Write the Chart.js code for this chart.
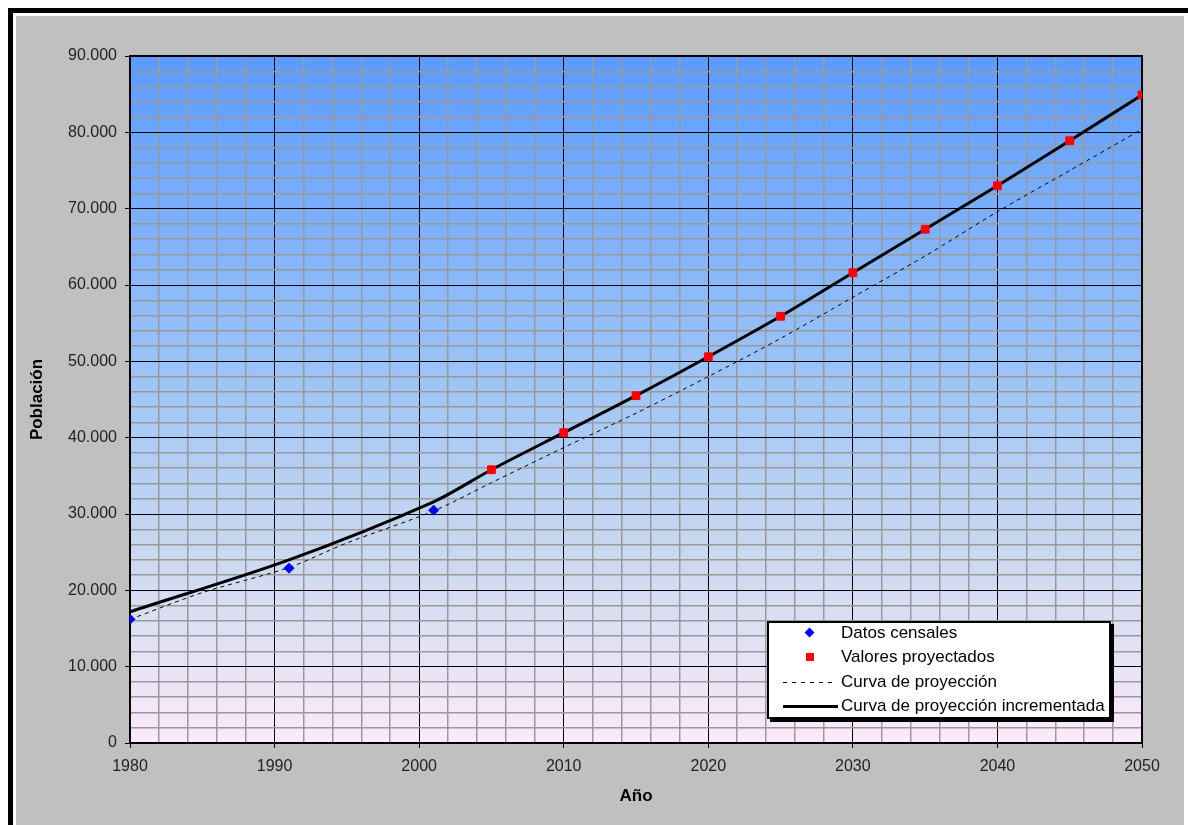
<!DOCTYPE html>
<html>
<head>
<meta charset="utf-8">
<script src="https://cdn.jsdelivr.net/npm/chart.js@4.4.1/dist/chart.umd.min.js"></script>
<style>
  body { margin: 0; background: #fff; width: 1188px; height: 825px; overflow: hidden; position: relative; font-family: "Liberation Sans", Arial, sans-serif; }
  #marco { position: absolute; left: 8px; top: 8px; width: 1180px; height: 817px; border-top: 5px solid #000; border-left: 5px solid #000; box-sizing: border-box; background: #fff; }
  #panel { position: absolute; left: 16px; top: 16px; width: 1168px; height: 809px; background: #c0c0c0; }
  #grafico { position: absolute; left: 0; top: 0; }
  #leyenda { position: absolute; left: 751px; top: 605px; width: 344px; height: 98px; box-sizing: border-box; border: 2px solid #000; background: #fff; box-shadow: 3px 3px 0 #000; }
  .fila { position: absolute; left: 0; width: 100%; height: 24px; line-height: 24px; font-size: 17px; color: #000; }
  .fila span.txt { position: absolute; left: 72px; top: 0; white-space: nowrap; }
  .simbolo { position: absolute; }
</style>
</head>
<body>
<div id="marco"></div>
<div id="panel">
  <canvas id="grafico" width="1168" height="809"></canvas>
  <div id="leyenda"></div>
</div>
<script>
// Datos censales
const anosCenso = [1980, 1991, 2001];
const poblacionCenso = [16200, 22900, 30500];

// Valores proyectados
const anosProyeccion = [2005, 2010, 2015, 2020, 2025, 2030, 2035, 2040, 2045, 2050];
const poblacionProyectada = [35800, 40650, 45500, 50600, 55900, 61600, 67300, 73000, 78900, 84900];

// Curva de proyeccion (punteada)
const anosCurva = [1980, 1985, 1991, 1995, 2001, 2005, 2010, 2015, 2020, 2025, 2030, 2035, 2040, 2045, 2050];
const poblacionCurva = [16200, 19700, 23000, 26200, 30400, 34100, 38700, 43200, 48000, 53000, 58400, 63800, 69600, 75000, 80400];

// Curva de proyeccion incrementada
const anosIncrementada = [1980, 1991, 2001, 2005, 2010, 2015, 2020, 2025, 2030, 2035, 2040, 2045, 2050];
const poblacionIncrementada = [17200, 24000, 31600, 35800, 40650, 45500, 50600, 55900, 61600, 67300, 73000, 78900, 84900];

const puntos = (xs, ys) => xs.map((x, i) => ({ x: x, y: ys[i] }));

// Fondo degradado y marco del area de trazado
const fondoPlugin = {
    id: 'fondo',
    beforeDraw(chart) {
        const { ctx, chartArea: a } = chart;
        const g = ctx.createLinearGradient(0, a.top, 0, a.bottom);
        g.addColorStop(0, '#5b9bff');
        g.addColorStop(0.5, '#a2c7f6');
        g.addColorStop(0.72, '#c9d8ef');
        g.addColorStop(1, '#fdeafa');
        ctx.save();
        ctx.fillStyle = g;
        ctx.fillRect(a.left, a.top, a.right - a.left, a.bottom - a.top);
        ctx.restore();
    },
    beforeDatasetsDraw(chart) {
        const { ctx, chartArea: a } = chart;
        ctx.save();
        ctx.strokeStyle = '#000';
        ctx.lineWidth = 2;
        ctx.strokeRect(a.left, a.top, a.right - a.left, a.bottom - a.top);
        ctx.restore();
    }
};

const datasets = [
    {
        label: 'Datos censales',
        data: puntos(anosCenso, poblacionCenso),
        pointStyle: 'rectRot',
        pointRadius: 5,
        backgroundColor: '#0000ff',
        borderColor: '#0000ff',
        borderWidth: 1,
        showLine: false
    },
    {
        label: 'Valores proyectados',
        data: puntos(anosProyeccion, poblacionProyectada),
        pointStyle: 'rect',
        pointRadius: 5.5,
        backgroundColor: '#ff0000',
        borderColor: '#ff0000',
        borderWidth: 1,
        showLine: false
    },
    {
        label: 'Curva de proyección',
        data: puntos(anosCurva, poblacionCurva),
        showLine: true,
        borderColor: '#000',
        borderWidth: 1,
        borderDash: [4, 4],
        pointRadius: 0,
        tension: 0.3
    },
    {
        label: 'Curva de proyección incrementada',
        data: puntos(anosIncrementada, poblacionIncrementada),
        showLine: true,
        borderColor: '#000',
        borderWidth: 3,
        pointRadius: 0,
        tension: 0.3
    }
];

const fuenteTicks = { family: '"Liberation Sans", Arial, sans-serif', size: 16 };
const fuenteTitulo = { family: '"Liberation Sans", Arial, sans-serif', size: 17, weight: 'bold' };

const chart = new Chart(document.getElementById('grafico').getContext('2d'), {
    type: 'scatter',
    data: { datasets: datasets },
    options: {
        responsive: false,
        animation: false,
        layout: { padding: { left: 0, top: 40, right: 42, bottom: 0 } },
        plugins: { legend: { display: false }, tooltip: { enabled: false } },
        scales: {
            x: {
                type: 'linear',
                min: 1980,
                max: 2050,
                afterFit: (s) => { s.height = 82; },
                border: { display: false },
                grid: {
                    color: (c) => c.tick.value % 10 === 0 ? '#000' : '#999',
                    lineWidth: (c) => c.tick.value % 10 === 0 ? 1 : 1.5,
                    tickColor: (c) => c.tick.value % 10 === 0 ? '#000' : 'rgba(0,0,0,0)',
                    tickLength: 5
                },
                ticks: {
                    stepSize: 2,
                    autoSkip: false,
                    maxRotation: 0,
                    padding: 9,
                    color: '#222',
                    font: fuenteTicks,
                    callback: (v) => v % 10 === 0 ? String(v) : ''
                },
                title: {
                    display: true,
                    text: 'Año',
                    color: '#000',
                    font: fuenteTitulo,
                    padding: { top: 0, bottom: 18 }
                }
            },
            y: {
                min: 0,
                max: 90000,
                afterFit: (s) => { s.width = 114; },
                border: { display: false },
                grid: {
                    color: (c) => c.tick.value % 10000 === 0 ? '#000' : '#999',
                    lineWidth: (c) => c.tick.value % 10000 === 0 ? 1 : 1.5,
                    tickColor: (c) => c.tick.value % 10000 === 0 ? '#000' : 'rgba(0,0,0,0)',
                    tickLength: 5
                },
                ticks: {
                    stepSize: 2000,
                    autoSkip: false,
                    padding: 8,
                    color: '#222',
                    font: fuenteTicks,
                    callback: (v) => v % 10000 !== 0 ? '' : (v === 0 ? '0' : (v / 1000) + '.000')
                },
                title: {
                    display: true,
                    text: 'Población',
                    color: '#000',
                    font: fuenteTitulo,
                    padding: { top: 11, bottom: 0 }
                }
            }
        }
    },
    plugins: [fondoPlugin]
});

// Leyenda en recuadro blanco con sombra
const leyenda = document.getElementById('leyenda');
chart.data.datasets.forEach((ds, i) => {
    const fila = document.createElement('div');
    fila.className = 'fila';
    fila.style.top = (10 + i * 24.3 - 12) + 'px';
    const s = document.createElement('div');
    s.className = 'simbolo';
    if (ds.pointStyle === 'rectRot') {
        Object.assign(s.style, { left: '37px', top: '8px', width: '7px', height: '7px', background: ds.backgroundColor, transform: 'rotate(45deg)' });
    } else if (ds.pointStyle === 'rect') {
        Object.assign(s.style, { left: '37px', top: '8px', width: '8px', height: '8px', background: ds.backgroundColor });
    } else if (ds.borderDash) {
        Object.assign(s.style, { left: '14px', top: '12px', width: '53px', height: '1px', background: 'repeating-linear-gradient(to right, #000 0 4px, transparent 4px 9px)' });
    } else {
        Object.assign(s.style, { left: '14px', top: '11px', width: '55px', height: '3px', background: ds.borderColor });
    }
    const t = document.createElement('span');
    t.className = 'txt';
    t.textContent = ds.label;
    fila.appendChild(s);
    fila.appendChild(t);
    leyenda.appendChild(fila);
});
</script>
</body>
</html>
